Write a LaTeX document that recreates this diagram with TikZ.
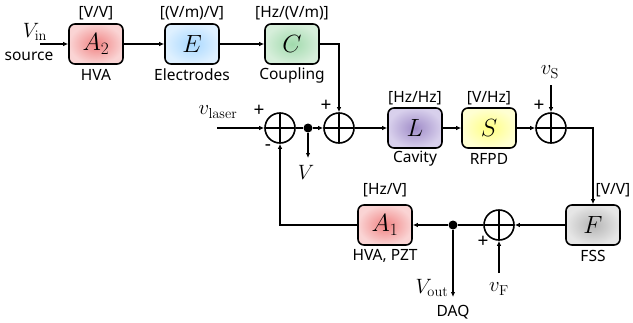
\documentclass[tikz,border=0pt]{standalone}
\usepackage[no-math]{fontspec}
\setmainfont{Noto Sans}
\usetikzlibrary{arrows.meta}
\tikzset{
  blk/.style={draw, line width=1.6pt, rounded corners=6pt, minimum width=54pt, minimum height=40pt, inner sep=0pt, font=\fontsize{25}{28}\selectfont},
  sumc/.style={draw, circle, line width=1.6pt, minimum size=30pt, inner sep=0pt,
    path picture={\draw[line width=1.6pt] (path picture bounding box.north) -- (path picture bounding box.south) (path picture bounding box.west) -- (path picture bounding box.east);}},
  dotn/.style={circle, fill=black, minimum size=9pt, inner sep=0pt},
  lbl/.style={font=\fontsize{15.5}{17}\selectfont, inner sep=0pt},
  mlbl/.style={font=\fontsize{20}{22}\selectfont, inner sep=0pt},
  sgn/.style={font=\fontsize{19}{20}\selectfont, inner sep=0pt},
  conn/.style={line width=1.6pt, -{Latex[length=5pt,width=4.5pt]}},
  plain/.style={line width=1.6pt},
  redfill/.style={inner color={rgb,255:red,240;green,130;blue,130}, outer color={rgb,255:red,250;green,212;blue,212}},
  bluefill/.style={inner color={rgb,255:red,168;green,216;blue,255}, outer color={rgb,255:red,222;green,240;blue,255}},
  greenfill/.style={inner color={rgb,255:red,160;green,218;blue,172}, outer color={rgb,255:red,214;green,238;blue,218}},
  purplefill/.style={inner color={rgb,255:red,160;green,140;blue,200}, outer color={rgb,255:red,216;green,208;blue,236}},
  yellowfill/.style={inner color={rgb,255:red,255;green,255;blue,130}, outer color={rgb,255:red,255;green,255;blue,210}},
  grayfill/.style={inner color={rgb,255:red,180;green,180;blue,180}, outer color={rgb,255:red,230;green,230;blue,230}},
}
\begin{document}
\begin{tikzpicture}[x=1pt,y=-1pt]
\useasboundingbox (0,0) rectangle (633,322);
% blocks
\node[blk, redfill] (A2) at (96,44) {$A_2$};
\node[blk, bluefill] (E) at (192,44) {$E$};
\node[blk, greenfill] (C) at (292,44) {$C$};
\node[blk, purplefill] (L) at (415,128) {$L$};
\node[blk, yellowfill] (S) at (489,128) {$S$};
\node[blk, grayfill] (F) at (593,225) {$F$};
\node[blk, redfill] (A1) at (385,225) {$A_1$};
% sums
\node[sumc] (s1) at (280,128) {};
\node[sumc] (s2) at (339,128) {};
\node[sumc] (s3) at (551,128) {};
\node[sumc] (s4) at (499,225) {};
% dots
\node[dotn] (d1) at (308,128) {};
\node[dotn] (d2) at (453,225) {};
% free ends
\coordinate (vin) at (40,44);
\coordinate (vlas) at (217,128);
\coordinate (vout1) at (308,158);
\coordinate (vsin) at (551,85);
\coordinate (vfin) at (499,273);
\coordinate (daq) at (453,297);
% connectors
\draw[conn] (vin) -- (A2);
\draw[conn] (A2) -- (E);
\draw[conn] (E) -- (C);
\draw[conn] (C.east) -| (s2.north);
\draw[conn] (vlas) -- (s1.west);
\draw[plain] (s1.east) -- (d1);
\draw[conn] (d1) -- (s2.west);
\draw[conn] (d1) -- (vout1);
\draw[conn] (s2.east) -- (L.west);
\draw[conn] (L) -- (S);
\draw[conn] (S) -- (s3.west);
\draw[conn] (vsin) -- (s3.north);
\draw[conn] (s3.east) -| (F.north);
\draw[conn] (F.west) -- (s4.east);
\draw[plain] (s4.west) -- (d2);
\draw[conn] (d2) -- (A1.east);
\draw[conn] (d2) -- (daq);
\draw[conn] (vfin) -- (s4.south);
\draw[conn] (A1.west) -| (s1.south);
% labels
\node[lbl] (uA2) at (96,13) {[V/V]};
\node[lbl] (nA2) at (96,75) {HVA};
\node[lbl] (uE) at (192,13) {[(V/m)/V]};
\node[lbl] (nE) at (192,75) {Electrodes};
\node[lbl] (uC) at (292,13) {[Hz/(V/m)]};
\node[lbl] (nC) at (292,75) {Coupling};
\node[mlbl] (tvin) at (35,32) {$V_{\mathrm{in}}$};
\node[lbl] (tsrc) at (29,56) {source};
\node[mlbl] (tlas) at (218,112) {$v_{\mathrm{laser}}$};
\node[sgn] (p1) at (259,111) {+};
\node[sgn] (m1) at (268,148) {-};
\node[sgn] (p2) at (326,106) {+};
\node[mlbl] (tV) at (306,172) {$V$};
\node[lbl] (uL) at (415,98) {[Hz/Hz]};
\node[lbl] (nL) at (415,159) {Cavity};
\node[lbl] (uS) at (489,98) {[V/Hz]};
\node[lbl] (nS) at (489,159) {RFPD};
\node[sgn] (p3) at (539,106) {+};
\node[mlbl] (tvs) at (550,72) {$v_{\mathrm{S}}$};
\node[lbl] (uF) at (613,190) {[V/V]};
\node[lbl] (nF) at (593,256) {FSS};
\node[lbl] (uA1) at (385,190) {[Hz/V]};
\node[lbl] (nA1) at (385,256) {HVA, PZT};
\node[sgn] (p4) at (483,242) {+};
\node[mlbl] (tvf) at (499,289) {$v_{\mathrm{F}}$};
\node[mlbl] (tvout) at (432,288) {$V_{\mathrm{out}}$};
\node[lbl] (tdaq) at (453,312) {DAQ};
\end{tikzpicture}
\end{document}
